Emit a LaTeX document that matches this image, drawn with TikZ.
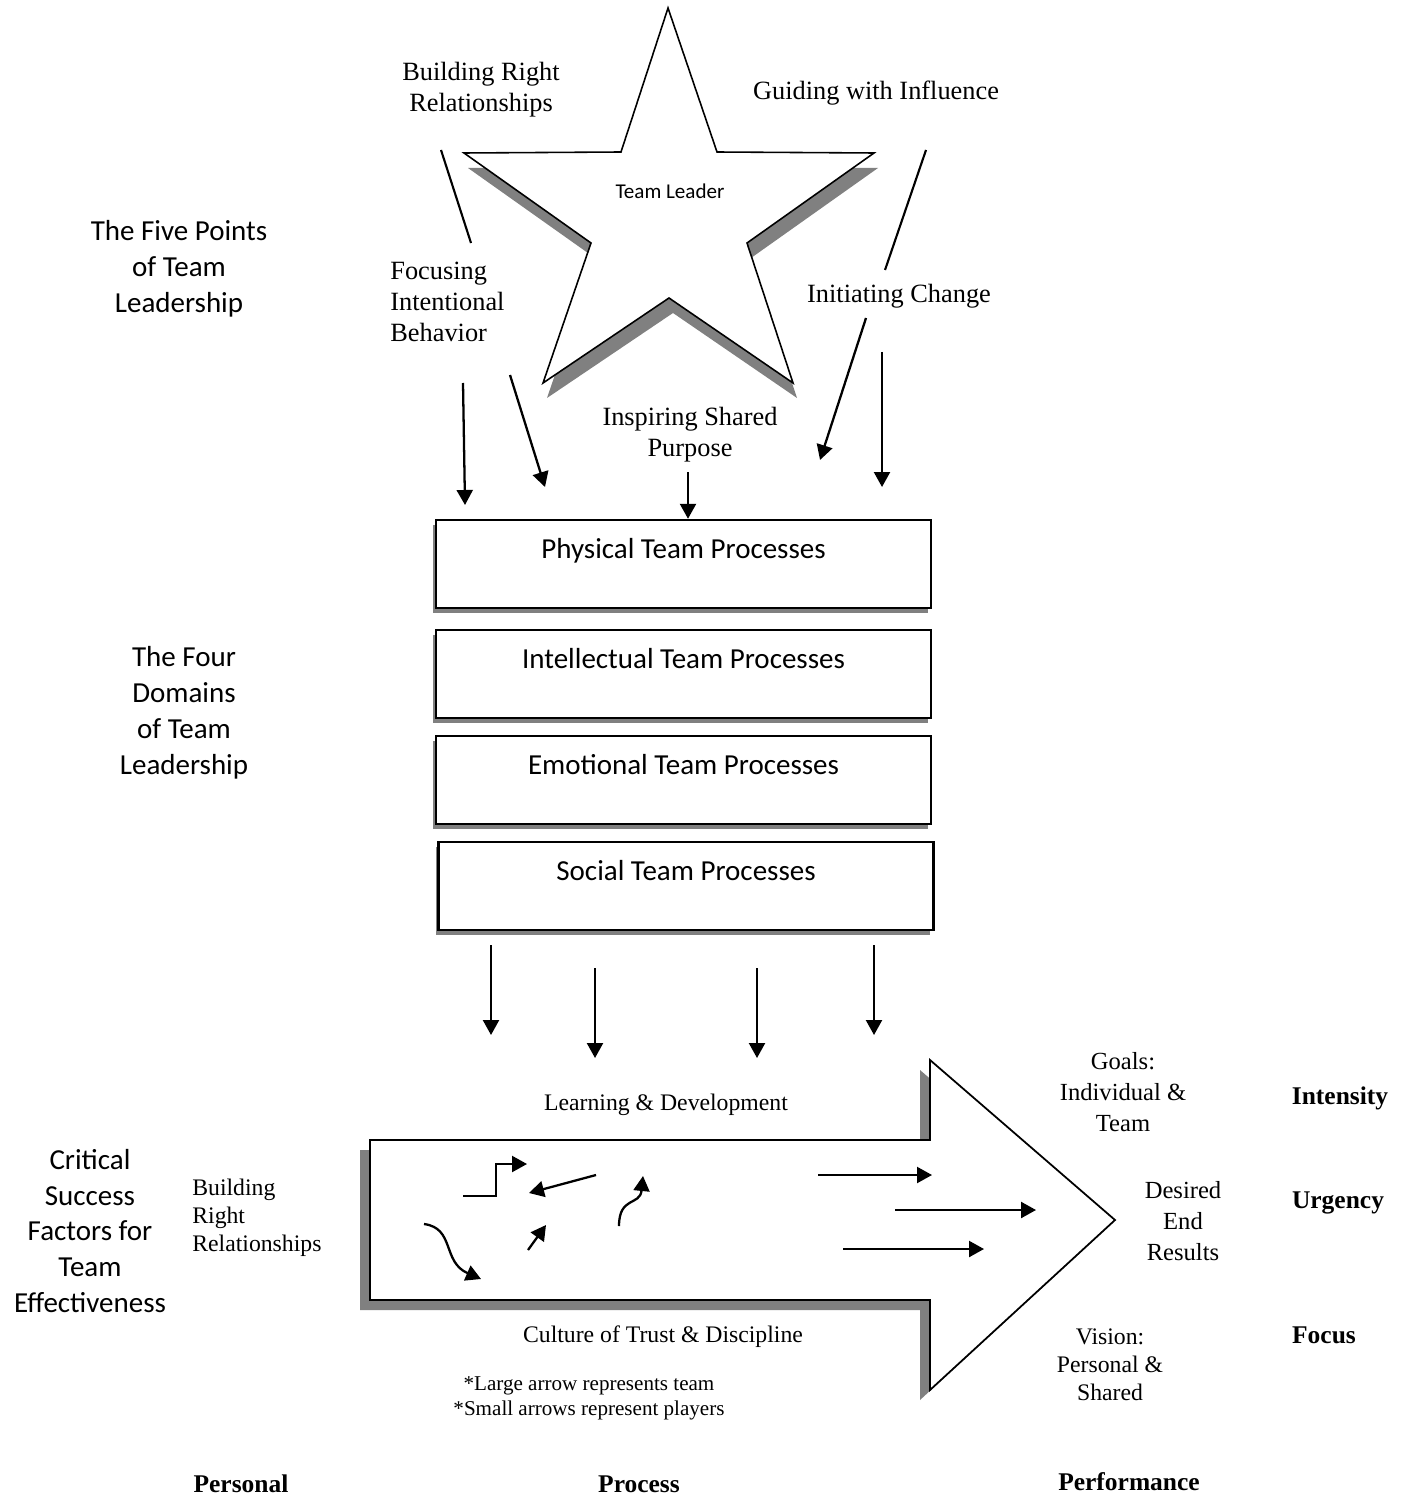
\documentclass[tikz,border=0pt]{standalone}
\usepackage{fontspec}
\setmainfont{Liberation Serif}
\newfontfamily\calibri{Carlito}
\usetikzlibrary{arrows.meta,positioning,calc,shadows}
\definecolor{Ink}{HTML}{000000}
\definecolor{Shade}{HTML}{808080}

\tikzset{
  toplbl/.style={font=\fontsize{15}{17.6}\selectfont,align=center,inner sep=0pt},
  midlbl/.style={font=\fontsize{13.5}{17}\selectfont,align=center,inner sep=0pt},
  notelbl/.style={font=\fontsize{12}{14.2}\selectfont,align=center,inner sep=0pt},
  sidelbl/.style={font=\calibri\fontsize{16.5}{20.4}\selectfont,align=center,inner sep=0pt},
  axislbl/.style={font=\bfseries\fontsize{14.5}{17}\selectfont,inner sep=0pt},
  procbox/.style={draw=Ink,line width=1.4pt,fill=white,inner sep=0pt,
    minimum width=9.9cm,minimum height=1.76cm,text height=0.76cm,text depth=1.0cm,
    font=\calibri\fontsize{16.5}{19}\selectfont,
    drop shadow={opacity=1,fill=Shade,shadow xshift=-0.06cm,shadow yshift=-0.1cm}},
  flow/.style={-{Triangle[length=0.3cm,width=0.32cm]},line width=1.3pt,Ink},
  tie/.style={line width=1.2pt,Ink},
}

\begin{document}
\begin{tikzpicture}[x=0.02cm,y=-0.02cm]
\useasboundingbox (0,0) rectangle (1410,1496);

% star
\draw[fill=white,line width=0.9pt,drop shadow={opacity=1,fill=Shade,shadow xshift=0.08cm,shadow yshift=-0.3cm}]
  (668,8) -- (717,152) -- (874,153) -- (747,243) -- (793,383) -- (669,298)
  -- (543,383) -- (591,243) -- (464,153) -- (621,152) -- cycle;
\node[font=\calibri\fontsize{12}{14}\selectfont,inner sep=0pt] (leader) at (670,191) {Team Leader};

% five points
\node[toplbl] (brr) at (481,90) {Building Right\\Relationships};
\node[toplbl] (gwi) at (876,93) {Guiding with Influence};
\node[toplbl,align=left,anchor=west] (fib) at (390,302) {Focusing\\Intentional\\Behavior};
\node[toplbl] (ich) at (899,296) {Initiating Change};
\node[toplbl] (isp) at (690,435) {Inspiring Shared\\Purpose};
\node[sidelbl] (fivepts) at (179,269) {The Five Points\\of Team\\Leadership};

\coordinate (brr-t) at (441,150);
\coordinate (fib-t) at (471,243);
\coordinate (gwi-t) at (926,150);
\coordinate (ich-t) at (885,270);
\draw[tie] (brr-t) -- (fib-t);
\draw[tie] (gwi-t) -- (ich-t);

% domain boxes
\node[procbox] (phys) at (683.5,564) {Physical Team Processes};
\node[procbox] (intel) at (683.5,674) {Intellectual Team Processes};
\node[procbox] (emot) at (683.5,780) {Emotional Team Processes};
\node[procbox] (soc) at (686,886) {Social Team Processes};
\node[sidelbl] (fourdom) at (184,713) {The Four\\Domains\\of Team\\Leadership};

\coordinate (fib-a) at (463,383);
\coordinate (fib-ae) at (465,505);
\coordinate (fib-b) at (510,375);
\coordinate (fib-be) at (545,487);
\coordinate (isp-a) at (688,472);
\coordinate (ich-a) at (866,318);
\coordinate (ich-ae) at (820,460);
\coordinate (ich-b) at (882,352);
\coordinate (ich-be) at (882,487);
\draw[flow] (fib-a) -- (fib-ae);
\draw[flow] (fib-b) -- (fib-be);
\draw[flow] (isp-a) -- (isp-a |- phys.north);
\draw[flow] (ich-a) -- (ich-ae);
\draw[flow] (ich-b) -- (ich-be);

% down into team arrow
\coordinate (d1) at (491,945);
\coordinate (d1e) at (491,1035);
\coordinate (d2) at (595,968);
\coordinate (d2e) at (595,1058);
\coordinate (d3) at (757,968);
\coordinate (d3e) at (757,1058);
\coordinate (d4) at (874,945);
\coordinate (d4e) at (874,1035);
\foreach \a in {1,...,4}
  \draw[flow] (d\a) -- (d\a e);

% team arrow
\draw[fill=white,line width=1pt,drop shadow={opacity=1,fill=Shade,shadow xshift=-0.2cm,shadow yshift=-0.2cm}]
  (370,1140) -- (930,1140) -- (930,1060) -- (1115,1220) -- (930,1390)
  -- (930,1300) -- (370,1300) -- cycle;

% players
\coordinate (pa) at (463,1196);
\coordinate (pae) at (527,1164);
\draw[flow] (pa) -| (496,1164) -- (pae);
\coordinate (pb) at (596,1175);
\coordinate (pbe) at (529,1193);
\draw[flow] (pb) -- (pbe);
\coordinate (pc) at (619,1226);
\coordinate (pce) at (643,1176);
\draw[flow] (pc) .. controls (619,1196) and (640,1206) .. (pce);
\coordinate (pd) at (528,1250);
\coordinate (pde) at (546,1225);
\draw[flow] (pd) -- (pde);
\coordinate (pf) at (424,1224);
\coordinate (pfe) at (481,1279);
\draw[flow] (pf) .. controls (455,1228) and (442,1262) .. (pfe);
\coordinate (pg) at (818,1175);
\coordinate (pge) at (932,1175);
\coordinate (ph) at (895,1210);
\coordinate (phe) at (1036,1210);
\coordinate (pk) at (843,1249);
\coordinate (pke) at (984,1249);
\draw[flow] (pg) -- (pge);
\draw[flow] (ph) -- (phe);
\draw[flow] (pk) -- (pke);

% labels round the team arrow
\node[midlbl] (learn) at (666,1105) {Learning \& Development};
\node[midlbl] (trust) at (663,1337) {Culture of Trust \& Discipline};
\node[notelbl] (note) at (589,1398) {*Large arrow represents team\\*Small arrows represent players};
\node[sidelbl] (csf) at (90,1231) {Critical\\Success\\Factors for\\Team\\Effectiveness};
\node[midlbl,align=left,anchor=west,font=\fontsize{13.5}{16}\selectfont] (brr2) at (192,1218) {Building\\Right\\Relationships};
\node[midlbl,font=\fontsize{14}{17.6}\selectfont] (goals) at (1123,1092) {Goals:\\Individual \&\\Team};
\node[midlbl,font=\fontsize{14}{17.6}\selectfont] (desired) at (1183,1221) {Desired\\End\\Results};
\node[midlbl,font=\fontsize{13.5}{15.8}\selectfont] (vision) at (1110,1365) {Vision:\\Personal \&\\Shared};
\node[axislbl] (intensity) at (1340,1098) {Intensity};
\node[axislbl] (urgency) at (1338,1203) {Urgency};
\node[axislbl] (focus) at (1324,1335) {Focus};

% bottom axis
\node[axislbl] (personal) at (241,1484) {Personal};
\node[axislbl] (process) at (639,1484) {Process};
\node[axislbl] (perform) at (1129,1482) {Performance};
\end{tikzpicture}
\end{document}
